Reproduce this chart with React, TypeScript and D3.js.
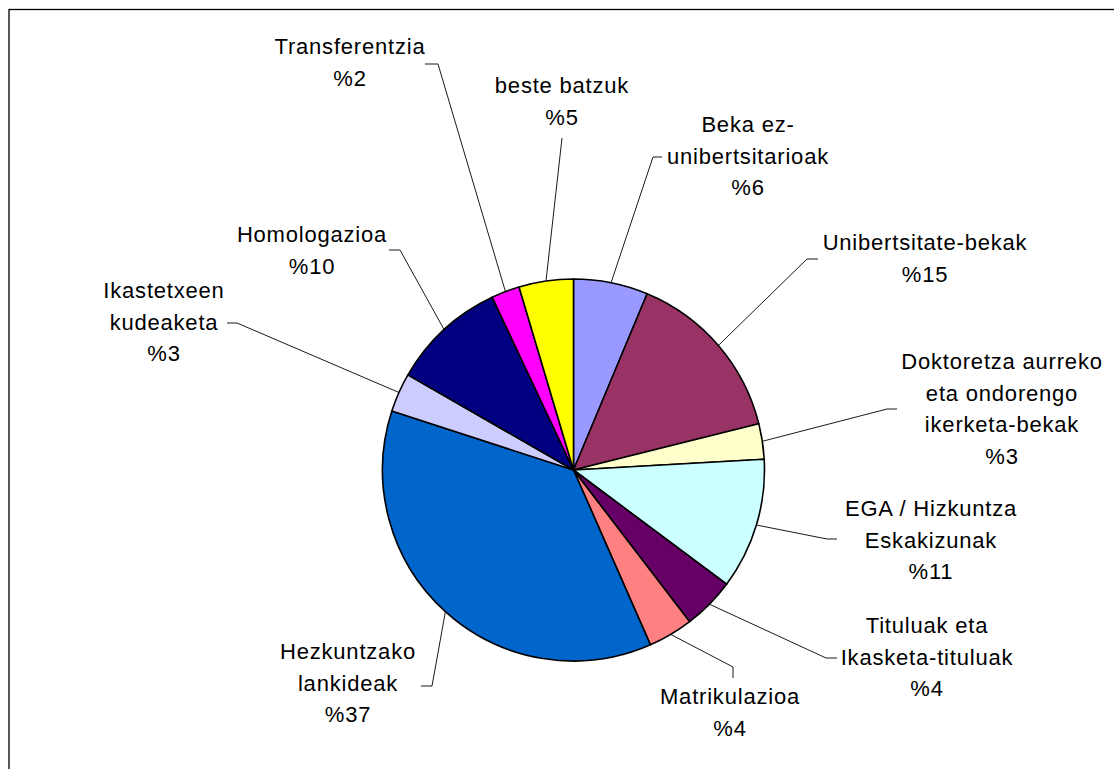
import * as d3 from "d3";

const categories = [
  ["Beka ez-", "unibertsitarioak"],
  ["Unibertsitate-bekak"],
  ["Doktoretza aurreko", "eta ondorengo", "ikerketa-bekak"],
  ["EGA / Hizkuntza", "Eskakizunak"],
  ["Tituluak eta", "Ikasketa-tituluak"],
  ["Matrikulazioa"],
  ["Hezkuntzako", "lankideak"],
  ["Ikastetxeen", "kudeaketa"],
  ["Homologazioa"],
  ["Transferentzia"],
  ["beste batzuk"],
];
const values = [6.3, 14.8, 3.0, 11.1, 4.4, 3.8, 36.6, 3.3, 9.7, 2.4, 4.6];
const colors = [
  "#9999FF", "#993366", "#FFFFCC", "#CCFFFF", "#660066", "#FF8080",
  "#0066CC", "#CCCCFF", "#000080", "#FF00FF", "#FFFF00",
];

// label layout: text centre x, first baseline y, leader elbow and end
const labelPos = [
  { x: 748, y: 132, elbow: [653, 157], end: [662, 157] },
  { x: 925, y: 250, elbow: [807, 259], end: [818, 259] },
  { x: 1002, y: 369, elbow: [887, 409], end: [897, 409] },
  { x: 931, y: 516, elbow: [827, 539], end: [837, 539] },
  { x: 927, y: 633, elbow: [826, 658], end: [837, 658] },
  { x: 730, y: 704, elbow: [733, 667], end: [733, 678] },
  { x: 348, y: 659, elbow: [432, 686], end: [421, 686] },
  { x: 164, y: 298, elbow: [237, 323], end: [227, 323] },
  { x: 312, y: 242, elbow: [400, 250], end: [389, 250] },
  { x: 350, y: 54, elbow: [438, 64], end: [425, 64] },
  { x: 562, y: 93, elbow: [562, 138], end: [562, 138] },
];

const cx = 573.5;
const cy = 470;
const radius = 191;
const lineH = 31.5;

export default function App() {
  const pie = d3.pie<number>().sort(null).startAngle(0).endAngle(2 * Math.PI);
  const arcs = pie(values);
  const arc = d3.arc<d3.PieArcDatum<number>>().innerRadius(0).outerRadius(radius);
  const edge = d3.arc<d3.PieArcDatum<number>>().innerRadius(radius).outerRadius(radius);
  const total = d3.sum(values);

  return (
    <svg
      width={1114}
      height={769}
      style={{ position: "absolute", left: 0, top: 0, background: "#fff" }}
      fontFamily="'Liberation Sans', Arial, sans-serif"
      fontSize={22}
    >
      <rect x={9} y={9.5} width={1200} height={900} fill="#fff" stroke="#000" strokeWidth={1.3} />
      <g transform={`translate(${cx},${cy})`}>
        {arcs.map((a, i) => (
          <path key={i} d={arc(a) || ""} fill={colors[i]} stroke="#000" strokeWidth={1.6} strokeLinejoin="round" />
        ))}
      </g>
      <g fill="none" stroke="#000" strokeWidth={0.9}>
        {arcs.map((a, i) => {
          const [ex, ey] = edge.centroid(a);
          const p = labelPos[i];
          return (
            <polyline
              key={i}
              points={`${cx + ex},${cy + ey} ${p.elbow[0]},${p.elbow[1]} ${p.end[0]},${p.end[1]}`}
            />
          );
        })}
      </g>
      <g textAnchor="middle" fill="#000">
        {categories.map((lines, i) => {
          const p = labelPos[i];
          const pct = "%" + Math.round((values[i] / total) * 100);
          return (
            <text key={i} x={p.x} y={p.y} letterSpacing={0.8}>
              {[...lines, pct].map((t, j) => (
                <tspan key={j} x={p.x} y={p.y + j * lineH}>
                  {t}
                </tspan>
              ))}
            </text>
          );
        })}
      </g>
    </svg>
  );
}
